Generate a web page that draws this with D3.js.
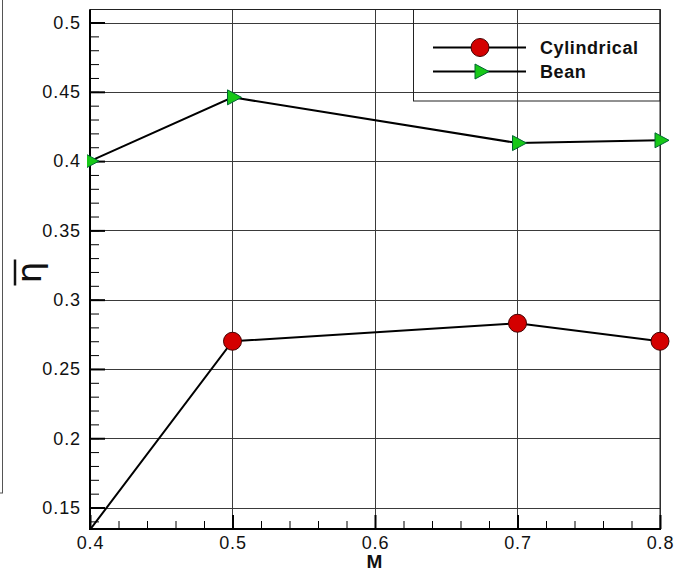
<!DOCTYPE html>
<html>
<head>
<meta charset="utf-8">
<script src="https://cdn.jsdelivr.net/npm/d3@7"></script>
<style>
  body { margin: 0; background: #fff; }
  svg { display: block; font-family: "Liberation Sans", Arial, sans-serif; }
</style>
</head>
<body>
<div id="chart"></div>
<script>
// values
const mach = [0.4, 0.5, 0.7, 0.8];
const cylindrical = [0.134, 0.27, 0.283, 0.27];
const bean = [0.4, 0.446, 0.413, 0.415];
const seriesNames = ["Cylindrical", "Bean"];
const xTicks = [0.4, 0.5, 0.6, 0.7, 0.8];
const yTicks = [0.15, 0.2, 0.25, 0.3, 0.35, 0.4, 0.45, 0.5];

const width = 683;
const height = 575;

const svg = d3.select("#chart")
  .append("svg")
  .attr("width", width)
  .attr("height", height);

const plotLeft = 90, plotRight = 660, plotTop = 9.5, plotBottom = 529;

const x = d3.scaleLinear().domain([0.4, 0.8]).range([plotLeft, plotRight]);
const y = d3.scaleLinear().domain([0.1345, 0.5094]).range([plotBottom, plotTop]);

// symbols get cut on the left axis only, the right ones stay whole
svg.append("defs").append("clipPath")
  .attr("id", "plot-clip")
  .append("rect")
  .attr("x", plotLeft - 3)
  .attr("y", plotTop)
  .attr("width", width - plotLeft + 3)
  .attr("height", plotBottom - plotTop);

// grid
const grid = svg.append("g").attr("stroke", "#3a3a3a").attr("stroke-width", 1);
grid.selectAll(".gx")
  .data(xTicks)
  .join("line")
  .attr("x1", (d) => Math.round(x(d)) + 0.5)
  .attr("x2", (d) => Math.round(x(d)) + 0.5)
  .attr("y1", plotTop)
  .attr("y2", plotBottom);
grid.selectAll(".gy")
  .data(yTicks)
  .join("line")
  .attr("x1", plotLeft)
  .attr("x2", plotRight)
  .attr("y1", (d) => Math.round(y(d)) + 0.5)
  .attr("y2", (d) => Math.round(y(d)) + 0.5);

// frame
svg.append("rect")
  .attr("x", plotLeft)
  .attr("y", plotTop)
  .attr("width", plotRight - plotLeft)
  .attr("height", plotBottom - plotTop)
  .attr("fill", "none")
  .attr("stroke", "#222")
  .attr("stroke-width", 1);

// legend box (transparent, grid shows through)
svg.append("rect")
  .attr("x", 413.5)
  .attr("y", plotTop)
  .attr("width", plotRight - 413.5)
  .attr("height", 101 - plotTop)
  .attr("fill", "none")
  .attr("stroke", "#222")
  .attr("stroke-width", 1);

// axes: minor ticks then major ticks, all pointing inward
const yMinor = d3.range(0.14, 0.505, 0.01).filter((v) => v >= y.domain()[0]);
const xMinor = d3.range(0.4, 0.805, 0.02);

svg.append("g")
  .attr("transform", `translate(${plotLeft},0)`)
  .call(d3.axisLeft(y).tickValues(yMinor).tickSize(-9).tickFormat(""))
  .call((g) => g.select(".domain").remove())
  .call((g) => g.selectAll("line").attr("stroke", "#000").attr("stroke-width", 1));

const yAxis = svg.append("g")
  .attr("transform", `translate(${plotLeft},0)`)
  .call(d3.axisLeft(y).tickValues(yTicks).tickSize(-15).tickPadding(9).tickFormat((d) => String(d)))
  .call((g) => g.select(".domain").remove());
yAxis.selectAll("line").attr("stroke", "#000").attr("stroke-width", 2);
yAxis.selectAll("text")
  .attr("font-size", 18)
  .attr("letter-spacing", 0.9)
  .attr("fill", "#111");

svg.append("g")
  .attr("transform", `translate(0,${plotBottom})`)
  .call(d3.axisBottom(x).tickValues(xMinor).tickSize(-8).tickFormat(""))
  .call((g) => g.select(".domain").remove())
  .call((g) => g.selectAll("line").attr("stroke", "#000").attr("stroke-width", 1));

const xAxis = svg.append("g")
  .attr("transform", `translate(0,${plotBottom})`)
  .call(d3.axisBottom(x).tickValues(xTicks).tickSize(-14).tickPadding(7).tickFormat((d) => String(d)))
  .call((g) => g.select(".domain").remove());
xAxis.selectAll("line").attr("stroke", "#000").attr("stroke-width", 2);
xAxis.selectAll("text")
  .attr("font-size", 18)
  .attr("letter-spacing", 0.9)
  .attr("fill", "#111");

// axis lines
svg.append("line")
  .attr("x1", plotLeft).attr("x2", plotLeft)
  .attr("y1", plotTop).attr("y2", plotBottom + 1)
  .attr("stroke", "#000").attr("stroke-width", 2);
svg.append("line")
  .attr("x1", plotLeft - 1).attr("x2", plotRight + 1)
  .attr("y1", plotBottom).attr("y2", plotBottom)
  .attr("stroke", "#000").attr("stroke-width", 2);

// axis titles
svg.append("text")
  .attr("x", 374.5)
  .attr("y", 568)
  .attr("text-anchor", "middle")
  .attr("font-size", 19)
  .attr("font-weight", "bold")
  .attr("fill", "#111")
  .text("M");

const yTitle = svg.append("g").attr("transform", "translate(41,272.5) rotate(-90)");
yTitle.append("text")
  .attr("text-anchor", "middle")
  .attr("font-family", "DejaVu Sans, sans-serif")
  .attr("font-size", 34)
  .attr("fill", "#111")
  .text("η");
yTitle.append("line")
  .attr("x1", -13).attr("x2", 13)
  .attr("y1", -26).attr("y2", -26)
  .attr("stroke", "#111").attr("stroke-width", 2.5);

// series
const series = [
  { name: seriesNames[0], values: cylindrical, symbol: "circle", color: "#d40000" },
  { name: seriesNames[1], values: bean, symbol: "triangle", color: "#18c818" },
];

const line = d3.line().x((d) => x(d.m)).y((d) => y(d.v));
const plot = svg.append("g").attr("clip-path", "url(#plot-clip)");

const triPath = "M-5,-7.5L9,0L-5,7.5Z";

function drawSymbol(sel, s) {
  if (s.symbol === "circle") {
    sel.append("circle")
      .attr("r", 9)
      .attr("fill", s.color)
      .attr("stroke", "#400")
      .attr("stroke-width", 1);
  } else {
    sel.append("path")
      .attr("d", triPath)
      .attr("fill", s.color)
      .attr("stroke", "#063")
      .attr("stroke-width", 1);
  }
}

series.forEach((s) => {
  const pts = mach.map((m, i) => ({ m: m, v: s.values[i] }));
  plot.append("path")
    .datum(pts)
    .attr("d", line)
    .attr("fill", "none")
    .attr("stroke", "#000")
    .attr("stroke-width", 2);
  plot.selectAll(null)
    .data(pts.filter((p) => p.v >= y.domain()[0]))
    .join("g")
    .attr("transform", (p) => `translate(${x(p.m)},${y(p.v)})`)
    .each(function () { drawSymbol(d3.select(this), s); });
});

// legend
const legend = svg.append("g");
series.forEach((s, i) => {
  const ly = 47.5 + i * 24;
  legend.append("line")
    .attr("x1", 433).attr("x2", 526)
    .attr("y1", ly).attr("y2", ly)
    .attr("stroke", "#000").attr("stroke-width", 2);
  const g = legend.append("g").attr("transform", `translate(480,${ly})`);
  drawSymbol(g, s);
  legend.append("text")
    .attr("x", 540)
    .attr("y", ly + 6)
    .attr("font-size", 18)
    .attr("font-weight", "bold")
    .attr("letter-spacing", 0.6)
    .attr("fill", "#111")
    .text(s.name);
});

// partial border on the left edge of the capture
svg.append("line")
  .attr("x1", 2.5).attr("x2", 2.5)
  .attr("y1", 0).attr("y2", 493)
  .attr("stroke", "#555").attr("stroke-width", 1);
svg.append("line")
  .attr("x1", 0).attr("x2", 3)
  .attr("y1", 493).attr("y2", 493)
  .attr("stroke", "#555").attr("stroke-width", 1);
</script>
</body>
</html>
